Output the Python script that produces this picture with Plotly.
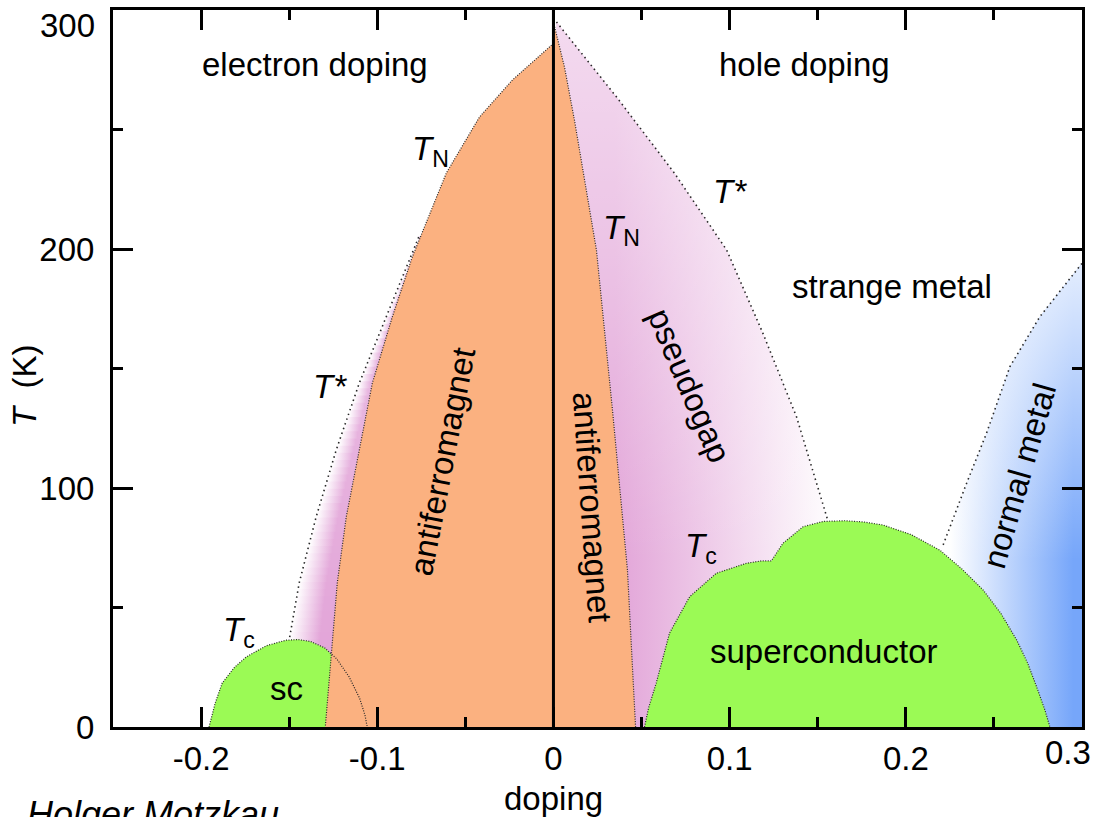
import numpy as np
import plotly.graph_objects as go

# ---------------- data (doping x, temperature T in K) ----------------
# electron side antiferromagnet boundary T_N
e_af_x = [0.0, -0.0233, -0.0420, -0.0608, -0.0801, -0.0915, -0.1028, -0.1102, -0.1176, -0.1227, -0.1256, -0.1295]
e_af_T = [286, 270.7, 255.2, 231.8, 196.7, 171.5, 143.9, 115.9, 87.9, 60.3, 33.5, 0]
# electron side pseudogap line T*
e_ts_x = [-0.0765, -0.0949, -0.1102, -0.1233, -0.1347, -0.1443, -0.1500, -0.1530]
e_ts_T = [205, 171.5, 143.9, 115.9, 87.9, 60.3, 36.4, 25]
# electron side superconducting dome
e_sc_x = [-0.1955, -0.1920, -0.1880, -0.1810, -0.1744, -0.1630, -0.1520, -0.1450, -0.1380, -0.1300, -0.1230, -0.1160, -0.1100, -0.1070, -0.1057]
e_sc_T = [0, 10, 18.4, 25, 29.3, 34.0, 36.3, 36.6, 35.8, 33.2, 28.5, 21, 12, 5, 0]
# hole side antiferromagnet boundary T_N
h_af_x = [0.0, 0.0063, 0.0119, 0.0185, 0.0244, 0.0335, 0.0420, 0.0466]
h_af_T = [295, 276, 254, 226, 199.6, 132.6, 65.7, 0]
# hole side pseudogap line T*
h_ts_x = [0.0017, 0.0358, 0.0686, 0.0983, 0.1188, 0.1380, 0.1557]
h_ts_T = [295, 263.6, 231.8, 199.6, 164.9, 129.7, 86.5]
# hole side superconducting dome
h_sc_x = [0.0517, 0.0540, 0.0583, 0.0659, 0.0773, 0.0924, 0.1095, 0.1180, 0.1237, 0.1303, 0.1417, 0.1530, 0.1653,
          0.1760, 0.1871, 0.2030, 0.2193, 0.2320, 0.2439, 0.2540, 0.2629, 0.2690, 0.2742, 0.2790, 0.2818]
h_sc_T = [0, 8, 18.3, 39.3, 54.5, 64.3, 68.5, 69.5, 69.5, 76.9, 83.8, 86.0, 86.3,
          85.8, 84.5, 80.5, 74, 66, 57.3, 47.5, 36.4, 27, 16.9, 7, 0]
# normal metal crossover line
nm_x = [0.2212, 0.2345, 0.2458, 0.2591, 0.2761, 0.2989, 0.3000]
nm_T = [76.2, 102, 122.9, 150.8, 171.7, 193.3, 194]

X_MIN, X_MAX = -0.25, 0.30
T_MIN, T_MAX = 0, 300
x_ticks = [-0.2, -0.1, 0, 0.1, 0.2, 0.3]
x_ticktext = ["-0.2", "-0.1", "0", "0.1", "0.2", ""]   # end label drawn separately (kept inside the page)
x_end_label = "0.3"
x_minor = [-0.25, -0.15, -0.05, 0.05, 0.15, 0.25]
y_ticks = [0, 100, 200, 300]
y_ticktext = ["0", "100", "200", ""]                   # end label drawn separately
y_end_label = "300"
y_minor = [50, 150, 250]

# ---------------- styles ----------------
FONT = "Liberation Sans, Arial, sans-serif"
ORANGE = "rgb(251,177,128)"
GREEN = "rgb(155,250,85)"
PINK = "rgb(226,164,216)"
BLUE = "rgb(118,166,250)"
LINE = "rgb(40,40,40)"
FS = 33

fig = go.Figure()

def poly(xs, ys, **kw):
    fig.add_trace(go.Scatter(x=list(xs), y=list(ys), mode="lines", fill="toself",
                             line=dict(width=0), hoverinfo="skip", showlegend=False, **kw))

# electron-side pseudogap band: thin slices, each with a gradient across the band
ts_sorted_T = e_ts_T[::-1]
ts_sorted_x = e_ts_x[::-1]
af_sorted_T = e_af_T[::-1]
af_sorted_x = e_af_x[::-1]
levels = np.linspace(e_ts_T[-1], e_ts_T[0], 61)
for t0, t1 in zip(levels[:-1], levels[1:]):
    s0 = float(np.interp(t0, ts_sorted_T, ts_sorted_x))
    s1 = float(np.interp(t1, ts_sorted_T, ts_sorted_x))
    a0 = float(np.interp(t0, af_sorted_T, af_sorted_x)) + 0.002
    a1 = float(np.interp(t1, af_sorted_T, af_sorted_x)) + 0.002
    tm = 0.5 * (t0 + t1)
    frac = (tm - e_ts_T[-1]) / (e_ts_T[0] - e_ts_T[-1])
    top_col = "rgb(%d,%d,%d)" % tuple(int(round(c + (255 - c) * 0.3 * frac)) for c in (226, 164, 216))
    sm = 0.5 * (s0 + s1)
    am = 0.5 * (a0 + a1)
    poly([s0, s1, a1, a0], [t0 - 0.3, t1 + 0.3, t1 + 0.3, t0 - 0.3],
         fillgradient=dict(type="horizontal", start=sm, stop=sm + 0.65 * (am - sm),
                           colorscale=[[0, "rgb(255,255,255)"], [1, top_col]]))

# hole-side pseudogap region
pg_x = h_ts_x + [h_ts_x[-1], 0.0]
pg_T = h_ts_T + [0, 0]
poly(pg_x, pg_T, fillgradient=dict(type="horizontal", start=0.035, stop=0.16,
                                   colorscale=[[0, PINK], [1, "rgb(255,255,255)"]]))
poly(pg_x, pg_T, fillgradient=dict(type="vertical", start=70, stop=295,
                                   colorscale=[[0, "rgba(255,255,255,0)"], [1, "rgba(255,255,255,0.6)"]]))

# normal metal region
nmx = nm_x + [X_MAX, nm_x[0]]
nmT = nm_T + [0, 0]
poly(nmx, nmT, fillgradient=dict(type="horizontal", start=0.225, stop=0.295,
                                 colorscale=[[0, "rgb(255,255,255)"], [1, BLUE]]))
poly(nmx, nmT, fillgradient=dict(type="vertical", start=70, stop=194,
                                 colorscale=[[0, "rgba(255,255,255,0)"], [1, "rgba(255,255,255,0.8)"]]))

# electron superconducting dome
poly(e_sc_x, e_sc_T, fillcolor=GREEN)
# antiferromagnets
poly(e_af_x + [0.0], e_af_T + [0], fillcolor=ORANGE)
poly(h_af_x + [0.0], h_af_T + [0], fillcolor=ORANGE)
# hole superconducting dome
poly(h_sc_x, h_sc_T, fillcolor=GREEN)

# boundary lines
def dline(xs, ys, dash, width=1.2, color=LINE):
    fig.add_trace(go.Scatter(x=list(xs), y=list(ys), mode="lines", line=dict(color=color, width=width, dash=dash),
                             hoverinfo="skip", showlegend=False))

dense = "1px,1.5px"
sparse = "1.5px,3.5px"
dline(e_af_x, e_af_T, dense)
dline(h_af_x, h_af_T, dense)
dline(e_sc_x, e_sc_T, dense)
dline(h_sc_x, h_sc_T, dense)
dline(e_ts_x[:-1], e_ts_T[:-1], sparse, width=1.6)
dline(h_ts_x, h_ts_T, sparse, width=1.6)
dline(nm_x, nm_T, sparse, width=1.6)

# divider between electron and hole doping
fig.add_trace(go.Scatter(x=[0, 0], y=[T_MIN, T_MAX], mode="lines", line=dict(color="black", width=3),
                         hoverinfo="skip", showlegend=False))

# ---------------- labels ----------------
def label(x, y, text, angle=0, size=FS):
    fig.add_annotation(x=x, y=y, xref="x", yref="y", text=text, showarrow=False, textangle=angle,
                       font=dict(family=FONT, size=size, color="black"), xanchor="center", yanchor="middle")

TN = "<i>T</i><sub>N</sub>"
TC = "<i>T</i><sub>c</sub>"
TS = "<i>T*</i>"
label(-0.1352, 277, "electron doping")
label(0.1426, 277, "hole doping")
label(-0.0699, 241, TN)
label(0.0386, 208, TN)
label(0.100, 224, TS)
label(-0.1267, 142.3, TS)
label(0.192, 184.5, "strange metal")
label(0.0773, 143, "pseudogap", angle=67)
label(-0.063, 111, "antiferromagnet", angle=-79)
label(0.0222, 92, "antiferromagnet", angle=86)
label(0.2642, 105.4, "normal metal", angle=-74)
label(-0.1784, 39.7, TC)
label(-0.1517, 16.3, "sc")
label(0.0835, 74.9, TC)
label(0.1534, 31.4, "superconductor")

# end tick labels, nudged inside the page as in the original
fig.add_annotation(x=-0.0165, y=0.979, xref="paper", yref="paper", text=y_end_label, showarrow=False,
                   font=dict(family=FONT, size=FS, color="black"), xanchor="right", yanchor="middle")
fig.add_annotation(x=0.9855, y=-0.0349, xref="paper", yref="paper", text=x_end_label, showarrow=False,
                   font=dict(family=FONT, size=FS, color="black"), xanchor="center", yanchor="middle")

# axis titles and credit
fig.add_annotation(x=0, y=-0.071, xref="x", yref="paper", text="doping", showarrow=False,
                   font=dict(family=FONT, size=FS, color="black"), xanchor="center", yanchor="top")
fig.add_annotation(x=-0.0908, y=0.4756, xref="paper", yref="paper", text="<i>T</i>&nbsp;&nbsp;(K)",
                   showarrow=False, textangle=-90, font=dict(family=FONT, size=FS, color="black"),
                   xanchor="center", yanchor="middle")
fig.add_annotation(x=-0.0908, y=-0.090, xref="paper", yref="paper", text="<i>Holger Motzkau</i>",
                   showarrow=False, font=dict(family=FONT, size=36, color="black"),
                   xanchor="left", yanchor="top")

axis_common = dict(showline=True, linewidth=3, linecolor="black", mirror="ticks", ticks="inside",
                   tickwidth=3, tickcolor="black", showgrid=False, zeroline=False,
                   automargin=False, tickfont=dict(family=FONT, size=FS, color="black"))
fig.update_xaxes(range=[X_MIN, X_MAX], tickmode="array", tickvals=x_ticks, ticktext=x_ticktext, ticklen=20,
                 minor=dict(tickmode="array", tickvals=x_minor, ticklen=10, tickwidth=3, tickcolor="black",
                            ticks="inside", showgrid=False), **axis_common)
fig.update_yaxes(range=[T_MIN, T_MAX], tickmode="array", tickvals=y_ticks, ticktext=y_ticktext, ticklen=20,
                 ticklabelstandoff=9,
                 minor=dict(tickmode="array", tickvals=y_minor, ticklen=10, tickwidth=3, tickcolor="black",
                            ticks="inside", showgrid=False), **axis_common)

fig.update_layout(width=1095, height=817, margin=dict(l=113, r=13, t=10, b=90, autoexpand=False),
                  plot_bgcolor="white", paper_bgcolor="white", showlegend=False)

fig.write_html("out.html")
